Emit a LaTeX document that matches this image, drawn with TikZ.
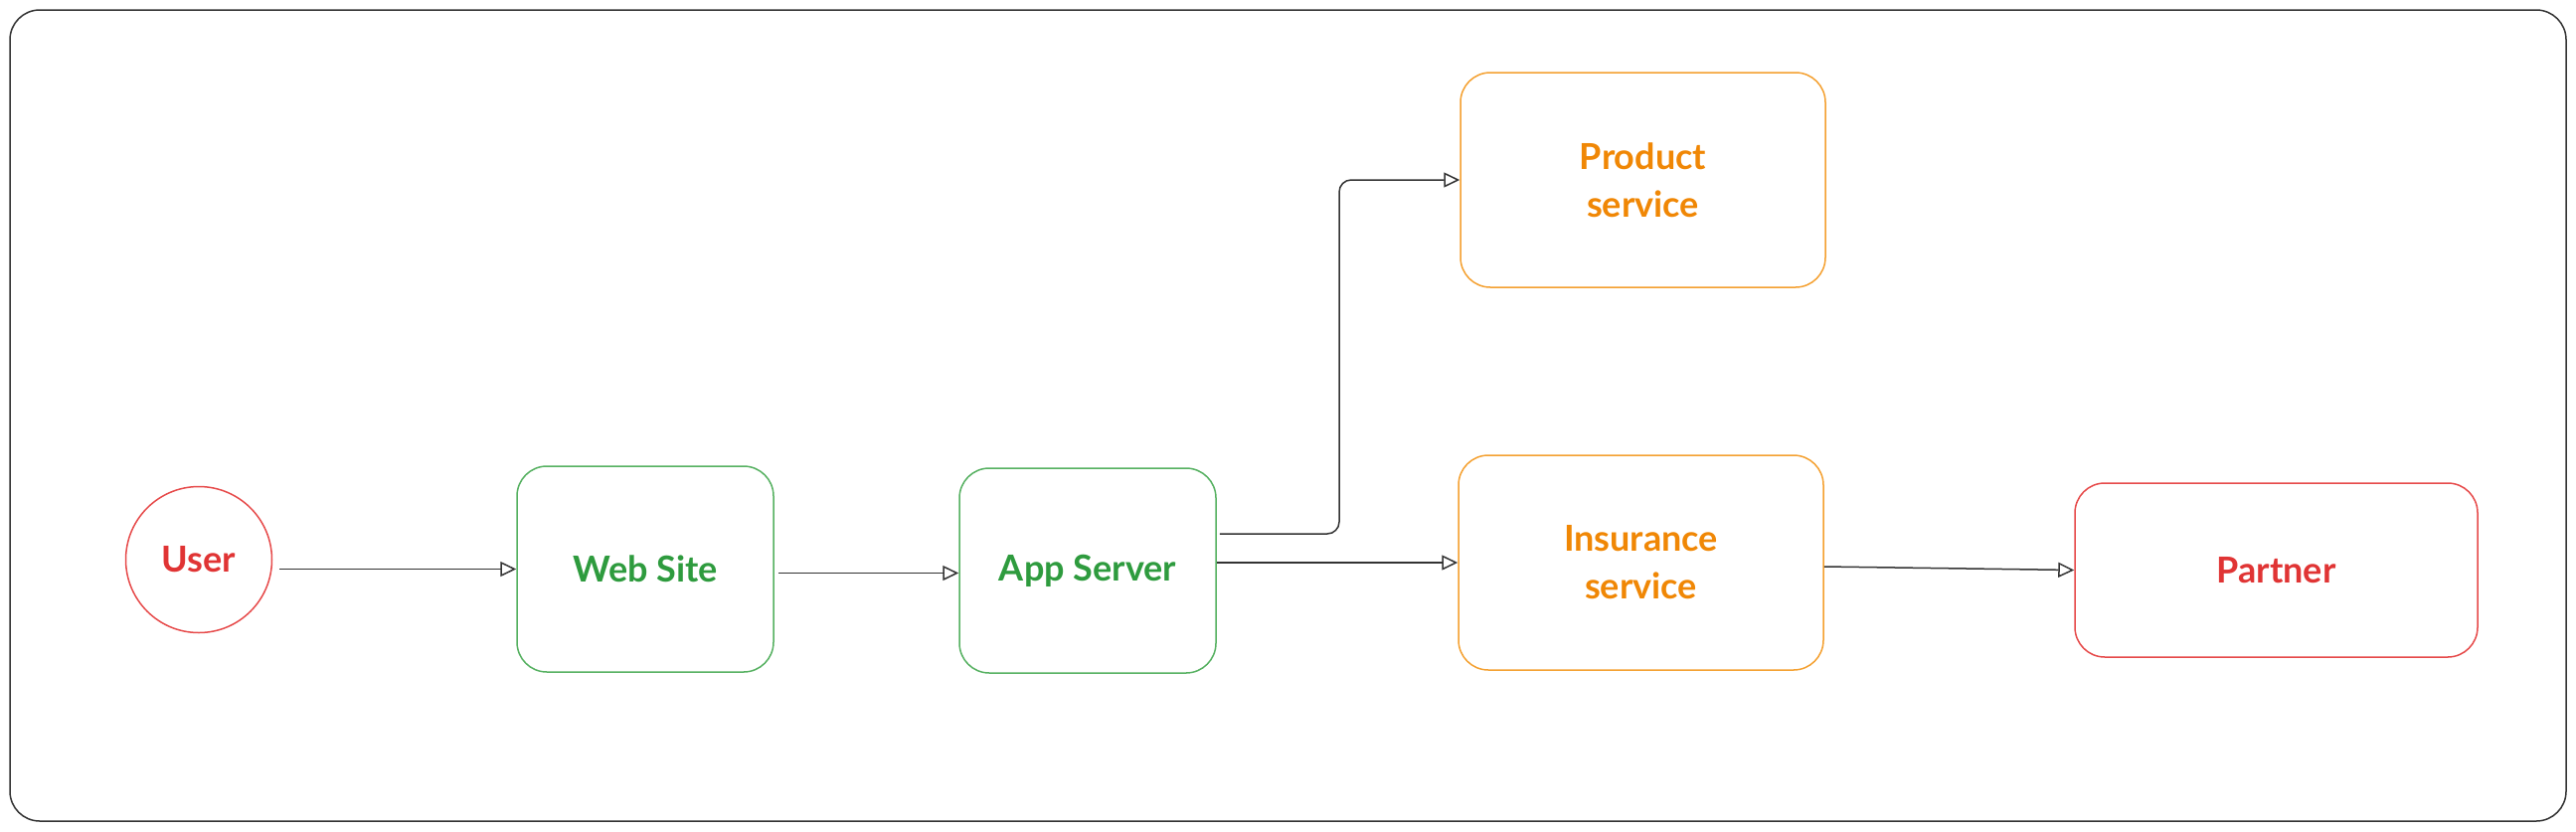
\documentclass[tikz,border=0pt]{standalone}
\usepackage{fontspec}
\setmainfont{Lato}
\usetikzlibrary{arrows.meta,calc}
\definecolor{redtxt}{HTML}{E03434}
\definecolor{redln}{HTML}{E64A4A}
\definecolor{greentxt}{HTML}{2E9B3E}
\definecolor{greenln}{HTML}{55B060}
\definecolor{orangetxt}{HTML}{F08705}
\definecolor{orangeln}{HTML}{F4A030}
\definecolor{lnk}{HTML}{333333}
\begin{document}
\begin{tikzpicture}[x=1pt,y=-1pt,
  lbl/.style={font=\fontsize{36}{48}\selectfont\bfseries, align=center},
  box/.style={lbl, rectangle, rounded corners=30pt, line width=1.5pt, inner sep=0pt},
  greenbox/.style={box, draw=greenln, text=greentxt},
  orangebox/.style={box, draw=orangeln, text=orangetxt},
  redbox/.style={box, draw=redln, text=redtxt},
  arr/.style={draw=lnk, line width=1.5pt, -{Triangle[open, length=16pt, width=15pt, fill=white]}}
]
\useasboundingbox (0,0) rectangle (2591,836);
\draw[lnk, line width=1.5pt, rounded corners=30pt] (10,10) rectangle (2581,826);

\node[circle, draw=redln, line width=1.5pt, minimum size=147pt, inner sep=0pt, lbl, text=redtxt] (user) at (200,563) {User};
\node[greenbox, minimum width=258pt, minimum height=207pt] (web) at (649,572.5) {Web Site};
\node[greenbox, minimum width=258pt, minimum height=206pt] (app) at (1094,574) {App Server};
\node[orangebox, minimum width=367pt, minimum height=216pt] (prod) at (1652.5,181) {Product\\service};
\node[orangebox, minimum width=367pt, minimum height=216pt] (ins) at (1650.5,566) {Insurance\\service};
\node[redbox, minimum width=405pt, minimum height=175pt] (part) at (2289.5,573.5) {Partner};

\coordinate (bend) at (1347,0);

\draw[arr, shorten <=7pt] (user.east |- web.west) -- (web.west);
\draw[arr, shorten <=4pt] ([yshift=-4pt]web.east) -- ([yshift=-4pt]web.east -| app.west);
\draw[arr, rounded corners=12pt] ([xshift=3pt,yshift=37pt]app.east) -| (bend |- prod.west) -- (prod.west);
\draw[arr] (app.east |- ins.west) -- (ins.west);
\draw[arr] ([yshift=-4pt]ins.east) -- (part.west);
\end{tikzpicture}
\end{document}
